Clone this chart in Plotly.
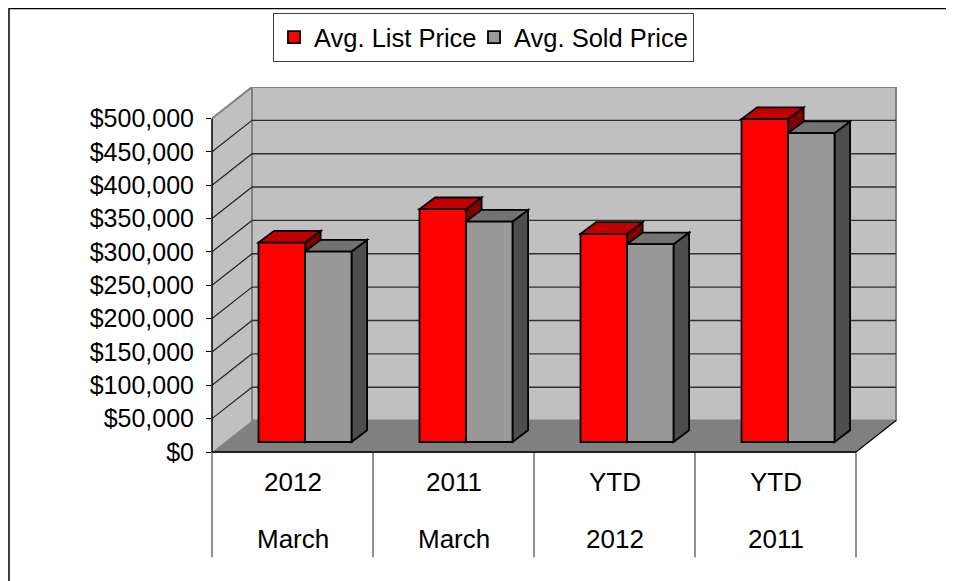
import plotly.graph_objects as go

# ---------------- data ----------------
categories_top = ["2012", "2011", "YTD", "YTD"]
categories_bottom = ["March", "March", "2012", "2011"]
series_names = ["Avg. List Price", "Avg. Sold Price"]
list_price = [299000, 349000, 312000, 484000]
sold_price = [285500, 330500, 296500, 463000]
y_ticks = [0, 50000, 100000, 150000, 200000, 250000, 300000, 350000, 400000, 450000, 500000]
y_ticklabels = ["$" + format(v, ",") for v in y_ticks]

# ---------------- geometry / style ----------------
W, H = 954, 581
OFF = 8                    # page margin of the browser body (px)
PL, PR = 212 - OFF, 898 - OFF      # plot area left / right (figure px)
PT, PB = 87 - OFF, 452.5 - OFF     # plot area top / bottom (figure px)
CAT_PX = 161.0             # px per category on the front plane
VAL_PX = 33.4 / 50000      # px per dollar
WALL_DX, WALL_DY = 40.0, 31.5    # depth of the 3-D box (px)
BAR_OX, BAR_OY = 12.5, 10.0      # bar front plane offset (px)
BAR_DX, BAR_DY = 15.6, 11.7      # depth of each bar (px)
BAR_W_PX = 46.5

FONT = "Liberation Sans, Arial, sans-serif"
FS = 25
RED = ["#FF0000", "#C00000", "#800000"]     # front, top, side
GREY = ["#999999", "#737373", "#4D4D4D"]
WALL = "#C0C0C0"
FLOOR = "#808080"

n = len(categories_top)
x_min = -0.5
x_max = x_min + (PR - PL) / CAT_PX
y_max = (PB - PT) / VAL_PX
DU, DV = WALL_DX / CAT_PX, WALL_DY / VAL_PX
bu, bv = BAR_DX / CAT_PX, BAR_DY / VAL_PX
bw = BAR_W_PX / CAT_PX
top_val = y_ticks[-1]


def px_x(px):
    # screen px -> paper x
    return (px - OFF - PL) / (PR - PL)


def px_y(py):
    # screen px -> paper y
    return (PB - (py - OFF)) / (PB - PT)


def poly(pts):
    return "M " + " L ".join(f"{x},{y}" for x, y in pts) + " Z"


xs = list(range(n))

fig = go.Figure()
fig.add_trace(go.Bar(
    x=xs, y=list_price, name=series_names[0], xaxis="x2", yaxis="y2", legendwidth=155,
    marker=dict(color=RED[0], line=dict(color="black", width=1.8)),
))
fig.add_trace(go.Bar(
    x=xs, y=sold_price, name=series_names[1], xaxis="x2", yaxis="y2",
    marker=dict(color=GREY[0], line=dict(color="black", width=1.8)),
))

shapes = []
# left wall
shapes.append(dict(type="path", xref="x", yref="y", layer="below",
                   path=poly([(x_min, 0), (x_min + DU, DV), (x_min + DU, top_val + DV), (x_min, top_val)]),
                   fillcolor=WALL, line=dict(width=0)))
# back wall
shapes.append(dict(type="rect", xref="x", yref="y", layer="below",
                   x0=x_min + DU, x1=x_min + n + DU, y0=DV, y1=top_val + DV,
                   fillcolor=WALL, line=dict(color="#808080", width=2)))
# left wall top edge
shapes.append(dict(type="line", xref="x", yref="y", layer="below",
                   x0=x_min, y0=top_val, x1=x_min + DU, y1=top_val + DV,
                   line=dict(color="#808080", width=2)))
# gridlines
for v in y_ticks[1:-1]:
    shapes.append(dict(type="line", xref="x", yref="y", layer="below",
                       x0=x_min + DU, x1=x_min + n + DU, y0=v + DV, y1=v + DV,
                       line=dict(color="#303030", width=1.4)))
    shapes.append(dict(type="line", xref="x", yref="y", layer="below",
                       x0=x_min, y0=v, x1=x_min + DU, y1=v + DV,
                       line=dict(color="#202020", width=1.2)))
# floor
shapes.append(dict(type="path", xref="x", yref="y", layer="below",
                   path=poly([(x_min, 0), (x_min + n, 0), (x_min + n + DU, DV), (x_min + DU, DV)]),
                   fillcolor=FLOOR, line=dict(width=0)))
shapes.append(dict(type="line", xref="x", yref="y", layer="below",
                   x0=x_min + n, y0=0, x1=x_min + n + DU, y1=DV,
                   line=dict(color="black", width=1.2)))
shapes.append(dict(type="line", xref="x", yref="paper", layer="above",
                   x0=x_min, x1=x_min + n, y0=0, y1=0,
                   line=dict(color="#202020", width=2)))

# bar tops and sides (bar plane axes)
for i in range(n):
    for vals, cols, x0, x1 in ((list_price, RED, i - bw, i), (sold_price, GREY, i, i + bw)):
        v = vals[i]
        side = poly([(x1, 0), (x1 + bu, bv), (x1 + bu, v + bv), (x1, v)])
        top = poly([(x0, v), (x1, v), (x1 + bu, v + bv), (x0 + bu, v + bv)])
        shapes.append(dict(type="path", xref="x2", yref="y2", layer="below", path=side,
                           fillcolor=cols[2], line=dict(color="black", width=1.8)))
        shapes.append(dict(type="path", xref="x2", yref="y2", layer="below", path=top,
                           fillcolor=cols[1], line=dict(color="black", width=1.8)))

# front value axis line
shapes.append(dict(type="line", xref="paper", yref="y", layer="above",
                   x0=0, x1=0, y0=0, y1=top_val, line=dict(color="black", width=1.5)))
# category dividers
for k in range(n + 1):
    xp = k * CAT_PX / (PR - PL)
    shapes.append(dict(type="line", xref="paper", yref="paper", layer="above",
                       x0=xp, x1=xp, y0=0, y1=px_y(558), line=dict(color="#222222", width=1)))
# outer chart border
shapes.append(dict(type="rect", xref="paper", yref="paper", layer="above",
                   x0=px_x(9), x1=px_x(W + 20), y0=px_y(H + 20), y1=px_y(8.4),
                   line=dict(color="black", width=1.5)))

annotations = []
for i in range(n):
    annotations.append(dict(x=i, y=px_y(483), xref="x", yref="paper", text=categories_top[i],
                            showarrow=False, yanchor="middle", font=dict(size=26, color="black", family=FONT)))
    annotations.append(dict(x=i, y=px_y(540), xref="x", yref="paper", text=categories_bottom[i],
                            showarrow=False, yanchor="middle", font=dict(size=26, color="black", family=FONT)))

fig.update_layout(
    width=W, height=H,
    margin=dict(l=PL, r=W - PR, t=PT, b=H - PB, pad=0, autoexpand=False),
    paper_bgcolor="white", plot_bgcolor="white",
    font=dict(family=FONT, size=FS, color="black"),
    barmode="group", bargap=1 - 2 * bw, bargroupgap=0,
    showlegend=True,
    legend=dict(orientation="h", x=px_x(273), y=px_y(13), xanchor="left", yanchor="top",
                bgcolor="white", bordercolor="#404040", borderwidth=1,
                font=dict(size=25.5, family=FONT, color="black")),
    xaxis=dict(range=[x_min, x_max], visible=False, fixedrange=True),
    yaxis=dict(range=[0, y_max], tickvals=y_ticks, ticktext=y_ticklabels,
               ticks="outside", ticklen=5, tickwidth=1, tickcolor="black",
               showgrid=False, zeroline=False, showline=False, ticklabelstandoff=7,
               tickfont=dict(size=FS, family=FONT, color="black"), fixedrange=True),
    xaxis2=dict(range=[x_min - BAR_OX / CAT_PX, x_max - BAR_OX / CAT_PX], overlaying="x",
                visible=False, fixedrange=True),
    yaxis2=dict(range=[-BAR_OY / VAL_PX, y_max - BAR_OY / VAL_PX], overlaying="y",
                visible=False, fixedrange=True),
    shapes=shapes,
    annotations=annotations,
)

fig.write_html("out.html")
